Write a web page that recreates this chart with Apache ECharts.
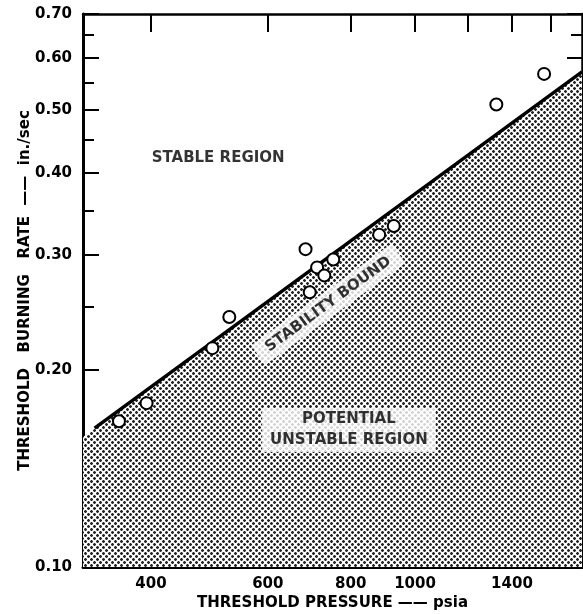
<!DOCTYPE html>
<html><head><meta charset="utf-8">
<script src="https://cdn.jsdelivr.net/npm/echarts@6/dist/echarts.min.js"></script>
<style>html,body{margin:0;padding:0;background:#fff}#c{width:583px;height:614px}</style>
</head><body><div id="c"></div>
<script>
// ---- data ----
const pressureTicks = [400, 600, 800, 1000, 1200, 1400, 1600];
const pressureLabels = [400, 600, 800, 1000, 1400];
const rateMajorTicks = [0.10, 0.20, 0.30, 0.40, 0.50, 0.60, 0.70];
const rateMinorTicks = [0.15, 0.25, 0.35, 0.45, 0.55, 0.65];
const pressureRange = [316, 1785];
const rateRange = [0.10, 0.70];
const testPressure = [358, 394, 495, 525, 684, 694, 712, 730, 753, 883, 929, 1326, 1565];
const testRate =     [0.167, 0.178, 0.216, 0.241, 0.306, 0.263, 0.287, 0.279, 0.295, 0.322, 0.332, 0.509, 0.567];
const boundPressure = [329, 1785];
const boundRate = [0.163, 0.571];
const shadePressure = [316, 1785];
const shadeRate = [0.158, 0.571];

const FONT = 'DejaVu Sans';
const txt = { color: '#000', fontFamily: FONT, fontSize: 15, fontWeight: 'bold' };

function dotPattern() {
  const c = document.createElement('canvas');
  c.width = 6; c.height = 6;
  const g = c.getContext('2d');
  g.fillStyle = '#fff'; g.fillRect(0, 0, 6, 6);
  function dot(x, y) {
    g.fillStyle = '#aaa';
    g.fillRect(x, y, 3, 3);
    g.fillStyle = '#262626';
    g.fillRect(x + 1, y, 1, 3);
    g.fillRect(x, y + 1, 3, 1);
  }
  dot(0, 0); dot(3, 3);
  return c;
}

const zip = (a, b) => a.map((v, i) => [v, b[i]]);

function logAxis(extra) {
  return Object.assign({
    type: 'log', logBase: 10,
    splitLine: { show: false }, minorTick: { show: false }, minorSplitLine: { show: false },
    axisLine: { show: false, onZero: false, lineStyle: { color: '#000', width: 3 } },
    axisLabel: { show: false },
    axisTick: { show: true, inside: true, length: 16, lineStyle: { color: '#000', width: 2 } }
  }, extra);
}

const chart = echarts.init(document.getElementById('c'), null, { renderer: 'canvas' });
chart.setOption({
  animation: false,
  backgroundColor: '#fff',
  grid: { left: 83, right: 1, top: 14, bottom: 47, containLabel: false, outerBoundsMode: 'none' },
  xAxis: [
    logAxis({
      position: 'bottom', min: pressureRange[0], max: pressureRange[1],
      axisLine: { show: true, onZero: false, lineStyle: { color: '#000', width: 3 } },
      axisTick: { show: true, inside: true, length: 17, customValues: pressureTicks, lineStyle: { color: '#000', width: 2 } },
      axisLabel: Object.assign({ show: true, margin: 10, customValues: pressureLabels, formatter: v => String(Math.round(v)) }, txt),
      name: 'THRESHOLD PRESSURE —— psia', nameLocation: 'middle', nameGap: 29, nameMoveOverlap: false,
      nameTextStyle: txt
    }),
    logAxis({
      position: 'top', min: pressureRange[0], max: pressureRange[1],
      axisLine: { show: true, onZero: false, lineStyle: { color: '#000', width: 2.5 } },
      axisTick: { show: true, inside: true, length: 18, customValues: pressureTicks, lineStyle: { color: '#000', width: 2 } }
    })
  ],
  yAxis: [
    logAxis({
      position: 'left', min: rateRange[0], max: rateRange[1],
      axisLine: { show: true, onZero: false, lineStyle: { color: '#000', width: 3 } },
      axisTick: { show: true, inside: true, length: 16, customValues: rateMajorTicks, lineStyle: { color: '#000', width: 2 } },
      axisLabel: Object.assign({ show: true, margin: 11, customValues: rateMajorTicks, formatter: v => (+v).toFixed(2) }, txt),
      name: 'THRESHOLD   BURNING   RATE  ——  in./sec', nameLocation: 'middle', nameGap: 50, nameMoveOverlap: false,
      nameTextStyle: txt
    }),
    logAxis({
      position: 'left', min: rateRange[0], max: rateRange[1],
      axisTick: { show: true, inside: true, length: 11, customValues: rateMinorTicks, lineStyle: { color: '#000', width: 2 } }
    }),
    logAxis({
      position: 'right', min: rateRange[0], max: rateRange[1],
      axisLine: { show: true, onZero: false, lineStyle: { color: '#000', width: 2.5 } },
      axisTick: { show: true, inside: true, length: 15, customValues: rateMajorTicks, lineStyle: { color: '#000', width: 2 } }
    }),
    logAxis({
      position: 'right', min: rateRange[0], max: rateRange[1],
      axisTick: { show: true, inside: true, length: 11, customValues: rateMinorTicks, lineStyle: { color: '#000', width: 2 } }
    })
  ],
  series: [
    {
      name: 'Potential unstable region', type: 'line', xAxisIndex: 0, yAxisIndex: 0,
      data: zip(shadePressure, shadeRate), showSymbol: false, symbol: 'none', silent: true, z: 1,
      lineStyle: { width: 0 },
      areaStyle: { origin: 'start', opacity: 1, color: { image: dotPattern(), repeat: 'repeat' } }
    },
    {
      name: 'Stability bound', type: 'line', xAxisIndex: 0, yAxisIndex: 0,
      data: zip(boundPressure, boundRate), symbol: 'none', silent: true, z: 3,
      lineStyle: { color: '#000', width: 3.5 }
    },
    {
      name: 'Annotations', type: 'scatter', xAxisIndex: 0, yAxisIndex: 0, symbolSize: 0, silent: true, z: 4,
      label: Object.assign({ show: true, position: 'inside', formatter: p => p.data.text }, txt),
      data: [
        { value: [505, 0.422], text: 'STABLE REGION' },
        { value: [740, 0.252], text: 'STABILITY BOUND',
          label: { rotate: 36, backgroundColor: '#fff', padding: [3, 11], lineHeight: 18 } },
        { value: [795, 0.162], text: 'POTENTIAL\nUNSTABLE REGION',
          label: { align: 'center', backgroundColor: '#fff', padding: [1, 8], lineHeight: 21 } }
      ]
    },
    {
      name: 'Test data', type: 'scatter', xAxisIndex: 0, yAxisIndex: 0, z: 5,
      data: zip(testPressure, testRate), symbol: 'circle', symbolSize: 12,
      itemStyle: { color: '#fff', borderColor: '#000', borderWidth: 2, opacity: 1 }
    }
  ]
});
</script></body></html>
